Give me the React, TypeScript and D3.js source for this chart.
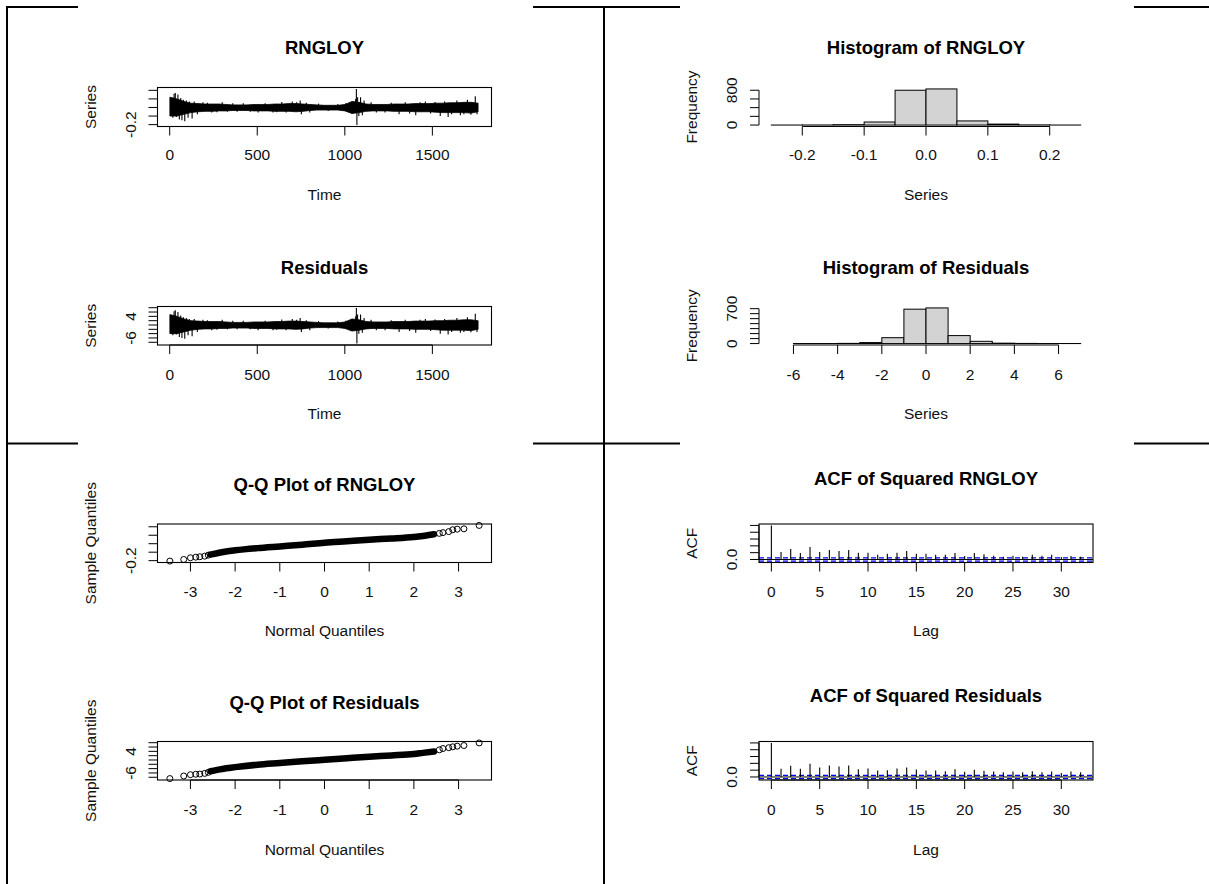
import React from "react";
import * as d3 from "d3";

const width = 1209;
const height = 884;
const FONT = "'Liberation Sans', Arial, Helvetica, sans-serif";
const TICK = 9;

// ---------- data ----------
const nObs = 1767;
const blockTimes = d3.range(1, nObs, 40); // first observation of each 40-step block

// dense core of the series inside each block (upper / lower edge)
const rngloyCoreHigh = [
  0.12, 0.1, 0.07, 0.05, 0.045, 0.04, 0.04, 0.04, 0.035, 0.03,
  0.03, 0.03, 0.035, 0.035, 0.035, 0.04, 0.04, 0.045, 0.045, 0.04,
  0.035, 0.03, 0.025, 0.025, 0.025, 0.035, 0.07, 0.06, 0.04, 0.035,
  0.035, 0.035, 0.04, 0.04, 0.04, 0.045, 0.045, 0.045, 0.05, 0.05,
  0.055, 0.055, 0.06, 0.06, 0.05,
];
const rngloyCoreLow = [
  -0.1, -0.1, -0.08, -0.06, -0.05, -0.045, -0.045, -0.04, -0.04, -0.035,
  -0.035, -0.035, -0.04, -0.04, -0.04, -0.045, -0.045, -0.045, -0.05, -0.045,
  -0.035, -0.03, -0.03, -0.03, -0.03, -0.04, -0.07, -0.06, -0.045, -0.04,
  -0.04, -0.04, -0.045, -0.045, -0.045, -0.05, -0.05, -0.05, -0.055, -0.06,
  -0.06, -0.06, -0.06, -0.065, -0.05,
];
const residCoreHigh = [
  4.8, 4.0, 2.8, 2.0, 1.8, 1.6, 1.6, 1.6, 1.4, 1.2,
  1.2, 1.2, 1.4, 1.4, 1.4, 1.6, 1.6, 1.8, 1.8, 1.6,
  1.4, 1.2, 1.0, 1.0, 1.0, 1.4, 2.8, 2.4, 1.6, 1.4,
  1.4, 1.4, 1.6, 1.6, 1.6, 1.8, 1.8, 1.8, 2.0, 2.0,
  2.2, 2.2, 2.4, 2.4, 2.0,
];
const residCoreLow = [
  -4.0, -4.0, -3.2, -2.4, -2.0, -1.8, -1.8, -1.6, -1.6, -1.4,
  -1.4, -1.4, -1.6, -1.6, -1.6, -1.8, -1.8, -1.8, -2.0, -1.8,
  -1.4, -1.2, -1.2, -1.2, -1.2, -1.6, -2.8, -2.4, -1.8, -1.6,
  -1.6, -1.6, -1.8, -1.8, -1.8, -2.0, -2.0, -2.0, -2.2, -2.4,
  -2.4, -2.4, -2.4, -2.6, -2.0,
];

// isolated excursions outside the core (time index, value)
const spikeTimes = [
  12, 18, 25, 32, 38, 47, 55, 63, 70, 78, 86, 95, 105, 112, 128, 140, 158, 190, 215, 240,
  270, 300, 330, 360, 385, 420, 460, 505, 545, 590, 610, 640, 665, 700, 725, 745, 752, 780,
  800, 850, 905, 960, 1005, 1040, 1062, 1066, 1069, 1073, 1080, 1090, 1100, 1110, 1150, 1180,
  1230, 1265, 1310, 1345, 1370, 1405, 1430, 1460, 1490, 1515, 1545, 1570, 1590, 1610, 1640,
  1660, 1680, 1700, 1720, 1745, 1755,
];
const rngloySpikes = [
  0.09, -0.12, 0.16, 0.17, -0.11, 0.15, -0.14, 0.11, -0.15, 0.09, -0.16, 0.08, -0.12, 0.07,
  -0.13, 0.07, -0.08, 0.06, 0.055, -0.06, -0.055, 0.06, -0.05, 0.05, -0.05, 0.05, -0.05,
  -0.06, 0.05, -0.06, -0.055, 0.065, -0.06, 0.07, 0.06, 0.08, -0.08, 0.055, -0.06, 0.045,
  -0.04, 0.04, 0.05, -0.07, 0.1, 0.216, -0.205, 0.12, -0.1, 0.12, -0.09, 0.08, 0.06, -0.06,
  -0.06, 0.055, -0.08, 0.06, -0.07, -0.09, 0.06, 0.07, -0.07, 0.065, -0.1, 0.07, -0.11,
  -0.08, 0.08, -0.09, -0.08, 0.09, -0.085, 0.13, -0.08,
];
const residSpikes = [
  3.6, -4.8, 6.4, 6.8, -4.4, 6.0, -5.6, 4.4, -6.0, 3.6, -6.4, 3.2, -4.8, 2.8,
  -5.2, 2.8, -3.2, 2.4, 2.2, -2.4, -2.2, 2.4, -2.0, 2.0, -2.0, 2.0, -2.0,
  -2.4, 2.0, -2.4, -2.2, 2.6, -2.4, 2.8, 2.4, 3.2, -3.2, 2.2, -2.4, 1.8,
  -1.6, 1.6, 2.0, -2.8, 4.0, 7.9, -8.6, 4.8, -4.0, 4.8, -3.6, 3.2, 2.4, -2.4,
  -2.4, 2.2, -3.2, 2.4, -2.8, -3.6, 2.4, 2.8, -2.8, 2.6, -4.0, 2.8, -4.4,
  -3.2, 3.2, -3.6, -3.2, 3.6, -3.4, 5.2, -3.2,
];

// Histograms
const rngloyBreaks = [-0.25, -0.2, -0.15, -0.1, -0.05, 0, 0.05, 0.1, 0.15, 0.2, 0.25];
const rngloyCounts = [1, 2, 9, 70, 800, 830, 95, 22, 4, 1];
const residBreaks = [-7, -6, -5, -4, -3, -2, -1, 0, 1, 2, 3, 4, 5, 6, 7];
const residCounts = [0, 1, 1, 4, 20, 118, 690, 715, 160, 45, 8, 3, 1, 1];

// Q-Q plots: separate tail points and the dense central band
const qqLowTheo = [-3.46, -3.15, -3.0, -2.88, -2.79, -2.68, -2.6];
const qqLowRngloy = [-0.205, -0.186, -0.166, -0.159, -0.154, -0.147, -0.135];
const qqLowResid = [-8.6, -7.4, -6.8, -6.6, -6.5, -6.2, -5.7];
const qqBodyTheo = [-2.55, -2.4, -2.2, -2.0, -1.5, -1.0, -0.5, 0, 0.5, 1.0, 1.5, 2.0, 2.2, 2.45];
const qqBodyRngloy = [-0.128, -0.112, -0.092, -0.078, -0.052, -0.032, -0.012, 0.012, 0.03, 0.048, 0.062, 0.08, 0.092, 0.112];
const qqBodyResid = [-5.2, -4.6, -3.8, -3.3, -2.2, -1.4, -0.6, 0.1, 0.8, 1.5, 2.1, 2.8, 3.3, 3.9];
const qqHighTheo = [2.57, 2.65, 2.78, 2.87, 2.97, 3.12, 3.46];
const qqHighRngloy = [0.122, 0.131, 0.143, 0.165, 0.172, 0.176, 0.216];
const qqHighResid = [4.7, 5.3, 5.7, 6.1, 6.4, 6.7, 7.9];

// ACF of squared series, lags 0..32
const acfRngloy = [
  1, 0.22, 0.31, 0.19, 0.37, 0.22, 0.28, 0.25, 0.28, 0.2, 0.2, 0.14, 0.17, 0.2, 0.25, 0.17, 0.17,
  0.14, 0.14, 0.19, 0.1, 0.19, 0.15, 0.11, 0.08, 0.11, 0.08, 0.14, 0.11, 0.14, 0.07, 0.1, 0.08,
];
const acfResid = [
  1, 0.24, 0.33, 0.24, 0.39, 0.28, 0.34, 0.31, 0.34, 0.23, 0.25, 0.19, 0.2, 0.25, 0.28, 0.22, 0.19,
  0.19, 0.17, 0.23, 0.15, 0.21, 0.18, 0.16, 0.14, 0.16, 0.14, 0.17, 0.14, 0.16, 0.12, 0.16, 0.14,
];
const acfLimit = 0.047;

// tick values
const timeTicks = [0, 500, 1000, 1500];
const rngloyTicks = [-0.2, -0.1, 0, 0.1, 0.2];
const residTicks = [-8, -6, -4, -2, 0, 2, 4, 6, 8];
const histRngloyXTicks = [-0.2, -0.1, 0, 0.1, 0.2];
const histRngloyYTicks = [0, 200, 400, 600, 800];
const histResidXTicks = [-6, -4, -2, 0, 2, 4, 6];
const histResidYTicks = [0, 100, 200, 300, 400, 500, 600, 700];
const qqTicks = [-3, -2, -1, 0, 1, 2, 3];
const lagTicks = [0, 5, 10, 15, 20, 25, 30];
const acfTicks = [0, 0.2, 0.4, 0.6, 0.8, 1];

// ---------- layout ----------
const leftX: [number, number] = [157.5, 491.5];
const rightX: [number, number] = [759, 1093];
const rows = [
  { top: 87.5, bottom: 126.5, tick: 155, xlab: 195 },
  { top: 306.5, bottom: 345, tick: 375, xlab: 414 },
  { top: 524, bottom: 562.5, tick: 592, xlab: 631 },
  { top: 741.5, bottom: 780, tick: 810, xlab: 850 },
];

const pad = (lo: number, hi: number): [number, number] => {
  const s = (hi - lo) * 0.04;
  return [lo - s, hi + s];
};

type Tick = { v: number; label?: string };
const lab = (vals: number[], fmt: (v: number) => string, show?: number[]): Tick[] =>
  vals.map((v) => ({ v, label: !show || show.includes(v) ? fmt(v) : undefined }));
const int = (v: number) => String(v);
const one = (v: number) => v.toFixed(1);

function Panel(props: any) {
  const { x, y, row, titleY, title, xLabel, yLabel, xTicks, yTicks, boxed, children } = props;
  const [left, right] = x.range();
  const top = row.top;
  const bottom = row.bottom;
  const cx = (left + right) / 2;
  const cy = (top + bottom) / 2;
  const xt: Tick[] = xTicks;
  const yt: Tick[] = yTicks;
  return (
    <g fontFamily={FONT} fill="#111">
      <text x={cx} y={titleY} dy="0.35em" textAnchor="middle" fontWeight="bold" fontSize={18.5} fill="#000">
        {title}
      </text>
      {children}
      {boxed && (
        <rect x={left} y={top} width={right - left} height={bottom - top} fill="none" stroke="#000" strokeWidth={1.1} />
      )}
      <line x1={x(xt[0].v)} x2={x(xt[xt.length - 1].v)} y1={bottom} y2={bottom} stroke="#000" />
      {xt.map((t) => (
        <g key={"x" + t.v}>
          <line x1={x(t.v)} x2={x(t.v)} y1={bottom} y2={bottom + TICK} stroke="#000" />
          <text x={x(t.v)} y={row.tick} dy="0.35em" textAnchor="middle" fontSize={15.5}>
            {t.label}
          </text>
        </g>
      ))}
      <line x1={left} x2={left} y1={y(yt[0].v)} y2={y(yt[yt.length - 1].v)} stroke="#000" />
      {yt.map((t) => (
        <g key={"y" + t.v}>
          <line x1={left - TICK} x2={left} y1={y(t.v)} y2={y(t.v)} stroke="#000" />
          {t.label && (
            <text
              transform={`translate(${left - 27},${y(t.v)}) rotate(-90)`}
              dy="0.35em"
              textAnchor="middle"
              fontSize={15.5}
            >
              {t.label}
            </text>
          )}
        </g>
      ))}
      <text x={cx} y={row.xlab} dy="0.35em" textAnchor="middle" fontSize={15.5}>
        {xLabel}
      </text>
      <text transform={`translate(${left - 67},${cy}) rotate(-90)`} dy="0.35em" textAnchor="middle" fontSize={15.5}>
        {yLabel}
      </text>
    </g>
  );
}

function TimePlot({ row, titleY, title, coreHigh, coreLow, spikes, yTicks }: any) {
  const x = d3.scaleLinear().domain(pad(1, nObs)).range(leftX);
  const allVals = [...coreHigh, ...coreLow, ...spikes];
  const y = d3
    .scaleLinear()
    .domain(pad(d3.min(allVals) as number, d3.max(allVals) as number))
    .range([row.bottom, row.top]);
  const area = d3
    .area<number>()
    .x((t) => x(t))
    .y0((_, i) => y(coreLow[i]))
    .y1((_, i) => y(coreHigh[i]));
  return (
    <Panel
      x={x}
      y={y}
      row={row}
      titleY={titleY}
      title={title}
      xLabel="Time"
      yLabel="Series"
      xTicks={lab(timeTicks, int)}
      yTicks={yTicks}
      boxed
    >
      <path d={area(blockTimes) || ""} fill="#000" stroke="#000" strokeWidth={0.8} />
      {spikeTimes.map((t, i) => (
        <line key={i} x1={x(t)} x2={x(t)} y1={y(0)} y2={y(spikes[i])} stroke="#000" strokeWidth={1.1} />
      ))}
    </Panel>
  );
}

function HistPlot({ row, titleY, title, breaks, counts, xTicks, yTicks }: any) {
  const x = d3
    .scaleLinear()
    .domain(pad(breaks[0], breaks[breaks.length - 1]))
    .range(rightX);
  const y = d3
    .scaleLinear()
    .domain(pad(0, d3.max(counts) as number))
    .range([row.bottom, row.top]);
  return (
    <Panel x={x} y={y} row={row} titleY={titleY} title={title} xLabel="Series" yLabel="Frequency" xTicks={xTicks} yTicks={yTicks}>
      {counts.map((c: number, i: number) => (
        <rect
          key={i}
          x={x(breaks[i])}
          y={y(c)}
          width={x(breaks[i + 1]) - x(breaks[i])}
          height={y(0) - y(c)}
          fill="#d3d3d3"
          stroke="#000"
          strokeWidth={1}
        />
      ))}
    </Panel>
  );
}

function QQPlot({ row, titleY, title, low, body, high, yTicks }: any) {
  const allTheo = [...qqLowTheo, ...qqHighTheo];
  const allVals = [...low, ...high];
  const x = d3
    .scaleLinear()
    .domain(pad(d3.min(allTheo) as number, d3.max(allTheo) as number))
    .range(leftX);
  const y = d3
    .scaleLinear()
    .domain(pad(d3.min(allVals) as number, d3.max(allVals) as number))
    .range([row.bottom, row.top]);
  const line = d3
    .line<number>()
    .x((_, i) => x(qqBodyTheo[i]))
    .y((d) => y(d))
    .curve(d3.curveMonotoneX);
  const tails = [
    ...qqLowTheo.map((t, i) => [t, low[i]]),
    ...qqHighTheo.map((t, i) => [t, high[i]]),
  ];
  return (
    <Panel
      x={x}
      y={y}
      row={row}
      titleY={titleY}
      title={title}
      xLabel="Normal Quantiles"
      yLabel="Sample Quantiles"
      xTicks={lab(qqTicks, int)}
      yTicks={yTicks}
      boxed
    >
      <path d={line(body) || ""} fill="none" stroke="#000" strokeWidth={6.5} strokeLinecap="round" />
      {tails.map((p, i) => (
        <circle key={i} cx={x(p[0])} cy={y(p[1])} r={3} fill="none" stroke="#000" strokeWidth={1} />
      ))}
    </Panel>
  );
}

function AcfPlot({ row, titleY, title, acf }: any) {
  const lags = acf.map((_: number, i: number) => i);
  const x = d3
    .scaleLinear()
    .domain(pad(0, lags.length - 1))
    .range(rightX);
  const y = d3
    .scaleLinear()
    .domain(pad(Math.min(-acfLimit, d3.min(acf) as number), 1))
    .range([row.bottom, row.top]);
  const [l, r] = rightX;
  return (
    <Panel
      x={x}
      y={y}
      row={row}
      titleY={titleY}
      title={title}
      xLabel="Lag"
      yLabel="ACF"
      xTicks={lab(lagTicks, int)}
      yTicks={lab(acfTicks, one, [0])}
      boxed
    >
      <line x1={l} x2={r} y1={y(0)} y2={y(0)} stroke="#000" />
      {[acfLimit, -acfLimit].map((c) => (
        <line key={c} x1={l} x2={r} y1={y(c)} y2={y(c)} stroke="#0000ff" strokeWidth={1.3} strokeDasharray="5 3" />
      ))}
      {acf.map((v: number, i: number) => (
        <line key={i} x1={x(i)} x2={x(i)} y1={y(0)} y2={y(v)} stroke="#000" strokeWidth={1.1} />
      ))}
    </Panel>
  );
}

function Borders() {
  const segs = [
    [6, 78],
    [533, 680],
    [1134, 1209],
  ];
  return (
    <g stroke="#000" strokeWidth={2}>
      <line x1={7} x2={7} y1={6} y2={height} />
      <line x1={604} x2={604} y1={6} y2={height} />
      {[7, 443.5].map((yy) =>
        segs.map((s) => <line key={yy + "-" + s[0]} x1={s[0]} x2={s[1]} y1={yy} y2={yy} />)
      )}
    </g>
  );
}

export default function App() {
  return (
    <svg
      width={width}
      height={height}
      style={{ position: "absolute", left: 0, top: 0, background: "#fff" }}
    >
      <rect width={width} height={height} fill="#fff" />
      <Borders />
      <TimePlot
        row={rows[0]}
        titleY={48}
        title="RNGLOY"
        coreHigh={rngloyCoreHigh}
        coreLow={rngloyCoreLow}
        spikes={rngloySpikes}
        yTicks={lab(rngloyTicks, one, [-0.2])}
      />
      <TimePlot
        row={rows[1]}
        titleY={268}
        title="Residuals"
        coreHigh={residCoreHigh}
        coreLow={residCoreLow}
        spikes={residSpikes}
        yTicks={lab(residTicks, int, [-6, 4])}
      />
      <QQPlot
        row={rows[2]}
        titleY={485}
        title="Q-Q Plot of RNGLOY"
        low={qqLowRngloy}
        body={qqBodyRngloy}
        high={qqHighRngloy}
        yTicks={lab(rngloyTicks, one, [-0.2])}
      />
      <QQPlot
        row={rows[3]}
        titleY={703}
        title="Q-Q Plot of Residuals"
        low={qqLowResid}
        body={qqBodyResid}
        high={qqHighResid}
        yTicks={lab(residTicks, int, [-6, 4])}
      />
      <HistPlot
        row={rows[0]}
        titleY={48}
        title="Histogram of RNGLOY"
        breaks={rngloyBreaks}
        counts={rngloyCounts}
        xTicks={lab(histRngloyXTicks, one)}
        yTicks={lab(histRngloyYTicks, int, [0, 800])}
      />
      <HistPlot
        row={rows[1]}
        titleY={268}
        title="Histogram of Residuals"
        breaks={residBreaks}
        counts={residCounts}
        xTicks={lab(histResidXTicks, int)}
        yTicks={lab(histResidYTicks, int, [0, 700])}
      />
      <AcfPlot row={rows[2]} titleY={479} title="ACF of Squared RNGLOY" acf={acfRngloy} />
      <AcfPlot row={rows[3]} titleY={696} title="ACF of Squared Residuals" acf={acfResid} />
    </svg>
  );
}
